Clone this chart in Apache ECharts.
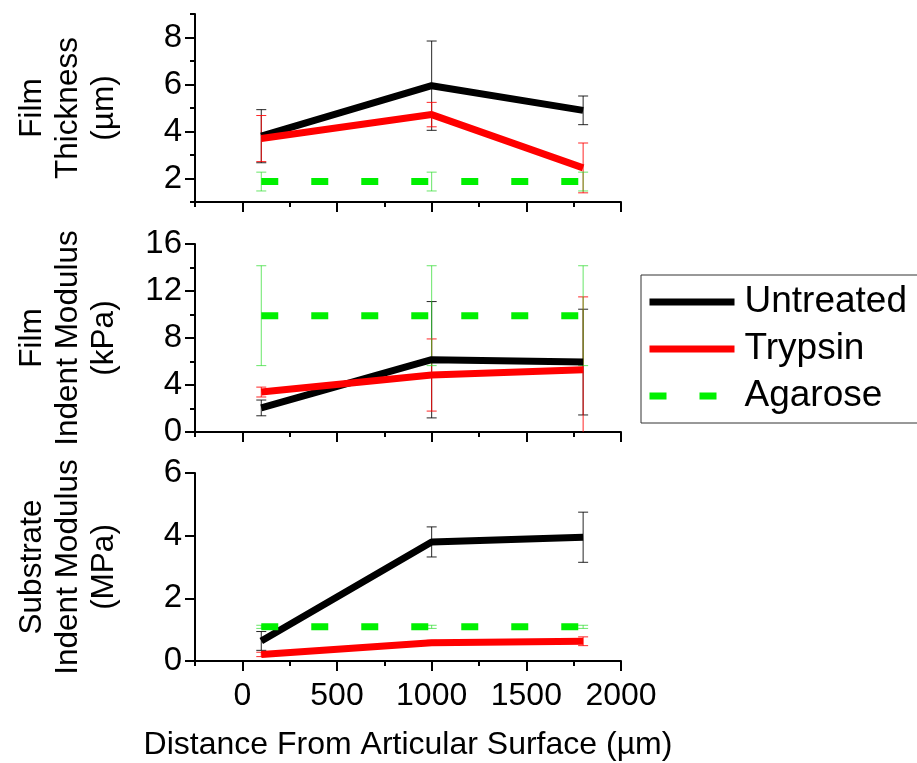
<!DOCTYPE html>
<html>
<head>
<meta charset="utf-8">
<script src="https://cdn.jsdelivr.net/npm/echarts@6/dist/echarts.min.js"></script>
<style>html,body{margin:0;padding:0;background:#fff}#c{width:917px;height:763px}</style>
</head>
<body>
<div id="c"></div>
<script>
// ---- data ----
const distances = [100, 1000, 1800];
const seriesNames = ['Untreated', 'Trypsin', 'Agarose'];

// Film thickness (µm)
const thickUntreated = [3.8, 5.95, 4.9];
const thickUntreatedErr = [1.13, 1.9, 0.61];
const thickTrypsin = [3.7, 4.72, 2.45];
const thickTrypsinErr = [0.98, 0.52, 1.06];
const thickAgarose = [1.87, 1.87, 1.87];
const thickAgaroseErr = [0.4, 0.4, 0.4];

// Film indent modulus (kPa)
const filmUntreated = [2.05, 6.15, 5.95];
const filmUntreatedErr = [0.67, 4.95, 4.5];
const filmTrypsin = [3.4, 4.85, 5.3];
const filmTrypsinErr = [0.42, 3.07, 6.2];
const filmAgarose = [9.9, 9.9, 9.9];
const filmAgaroseErr = [4.25, 4.25, 4.25];

// Substrate indent modulus (MPa)
const subUntreated = [0.64, 3.8, 3.95];
const subUntreatedErr = [0.3, 0.48, 0.8];
const subTrypsin = [0.21, 0.58, 0.63];
const subTrypsinErr = [0.07, 0.08, 0.14];
const subAgarose = [1.09, 1.09, 1.09];
const subAgaroseErr = [0.05, 0.05, 0.05];

// tick labels
const xMajorTicks = [0, 500, 1000, 1500, 2000];
const xMinorTicks = [-250, 250, 750, 1250, 1750];
const thickMajorTicks = [2, 4, 6, 8];
const thickMinorTicks = [1, 3, 5, 7, 9];
const filmMajorTicks = [0, 4, 8, 12, 16];
const filmMinorTicks = [2, 6, 10, 14];
const subMajorTicks = [0, 2, 4, 6];

const FONT = 'Liberation Sans, Arial, sans-serif';
const colors = ['#000000', '#ff0000', '#00f000'];
const errColors = ['rgba(0,0,0,0.85)', 'rgba(255,0,0,0.85)', 'rgba(40,220,40,0.7)'];

const grids = [
  {left: 195, width: 426, top: 14, height: 188},
  {left: 195, width: 426, top: 244, height: 188},
  {left: 195, width: 426, top: 473, height: 188}
];

function pts(vals) { return distances.map((d, i) => [d, vals[i]]); }
function errPts(vals, errs) { return distances.map((d, i) => [d, vals[i] - errs[i], vals[i] + errs[i]]); }

function errRender(color) {
  return function (params, api) {
    const x = api.value(0);
    const lo = api.coord([x, api.value(1)]);
    const hi = api.coord([x, api.value(2)]);
    const w = 5;
    const st = {stroke: color, lineWidth: 1};
    return {
      type: 'group',
      children: [
        {type: 'line', shape: {x1: hi[0], y1: hi[1], x2: lo[0], y2: lo[1]}, style: st},
        {type: 'line', shape: {x1: hi[0] - w, y1: hi[1], x2: hi[0] + w, y2: hi[1]}, style: st},
        {type: 'line', shape: {x1: lo[0] - w, y1: lo[1], x2: lo[0] + w, y2: lo[1]}, style: st}
      ]
    };
  };
}

const xAxes = [];
const yAxes = [];
for (let g = 0; g < 3; g++) {
  xAxes.push({
    type: 'value', gridIndex: g, min: -250, max: 2000, position: 'bottom',
    axisLine: {show: true, onZero: false, lineStyle: {color: '#000', width: 2}},
    axisTick: {show: true, customValues: xMajorTicks, length: 10, lineStyle: {color: '#000', width: 2}},
    axisLabel: {show: g === 2, customValues: xMajorTicks, margin: 19, fontSize: 32, color: '#000', fontFamily: FONT,
      formatter: v => String(v)},
    splitLine: {show: false},
    name: g === 2 ? 'Distance From Articular Surface (µm)' : '',
    nameLocation: 'middle', nameGap: 68,
    nameTextStyle: {fontSize: 32, color: '#000', fontFamily: FONT}
  });
}
for (let g = 0; g < 3; g++) {
  xAxes.push({
    type: 'value', gridIndex: g, min: -250, max: 2000, position: 'bottom',
    axisLine: {show: false, onZero: false},
    axisTick: {show: true, customValues: xMinorTicks, length: 5, lineStyle: {color: '#000', width: 2}},
    axisLabel: {show: false},
    splitLine: {show: false}
  });
}

const yNames = ['Film\nThickness\n(µm)', 'Film\nIndent Modulus\n(kPa)', 'Substrate\nIndent Modulus\n(MPa)'];
const yRanges = [[1, 9], [0, 16], [0, 6]];
const yMajors = [thickMajorTicks, filmMajorTicks, subMajorTicks];
const yMinors = [thickMinorTicks, filmMinorTicks];
for (let g = 0; g < 3; g++) {
  yAxes.push({
    type: 'value', gridIndex: g, min: yRanges[g][0], max: yRanges[g][1], position: 'left',
    axisLine: {show: true, onZero: false, lineStyle: {color: '#000', width: 2}},
    axisTick: {show: true, customValues: yMajors[g], length: 10, lineStyle: {color: '#000', width: 2}},
    axisLabel: {show: true, customValues: yMajors[g], margin: 13, fontSize: 33, color: '#000', fontFamily: FONT},
    splitLine: {show: false},
    name: yNames[g], nameLocation: 'middle', nameRotate: 90, nameGap: 73,
    nameTextStyle: {fontSize: 31.5, lineHeight: 36, color: '#000', fontFamily: FONT, align: 'center'}
  });
}
for (let g = 0; g < 2; g++) {
  yAxes.push({
    type: 'value', gridIndex: g, min: yRanges[g][0], max: yRanges[g][1], position: 'left',
    axisLine: {show: false, onZero: false},
    axisTick: {show: true, customValues: yMinors[g], length: 5, lineStyle: {color: '#000', width: 2}},
    axisLabel: {show: false},
    splitLine: {show: false}
  });
}

const panelData = [
  [[thickUntreated, thickUntreatedErr], [thickTrypsin, thickTrypsinErr], [thickAgarose, thickAgaroseErr]],
  [[filmUntreated, filmUntreatedErr], [filmTrypsin, filmTrypsinErr], [filmAgarose, filmAgaroseErr]],
  [[subUntreated, subUntreatedErr], [subTrypsin, subTrypsinErr], [subAgarose, subAgaroseErr]]
];

const series = [];
for (let g = 0; g < 3; g++) {
  for (let s = 0; s < 3; s++) {
    series.push({
      type: 'custom', name: seriesNames[s] + ' err', xAxisIndex: g, yAxisIndex: g,
      clip: true, z: 1, silent: true,
      renderItem: errRender(errColors[s]),
      encode: {x: 0, y: [1, 2]},
      data: errPts(panelData[g][s][0], panelData[g][s][1])
    });
  }
}
for (let g = 0; g < 3; g++) {
  for (let s = 0; s < 3; s++) {
    series.push({
      type: 'line', name: seriesNames[s], xAxisIndex: g, yAxisIndex: g,
      symbol: 'none', z: 3, silent: true, animation: false,
      color: colors[s],
      lineStyle: s === 2 ? {color: colors[s], width: 7, type: [17, 33], cap: 'butt'} : {color: colors[s], width: 7},
      data: pts(panelData[g][s][0])
    });
  }
}

const chart = echarts.init(document.getElementById('c'), null, {renderer: 'canvas'});
chart.setOption({
  animation: false,
  backgroundColor: '#fff',
  grid: grids,
  xAxis: xAxes,
  yAxis: yAxes,
  legend: {
    data: seriesNames,
    orient: 'vertical', left: 641, top: 275,
    borderColor: '#333', borderWidth: 1, borderRadius: 0,
    padding: [7, 13, 7, 5],
    itemGap: 7, itemWidth: 85, itemHeight: 14,
    itemStyle: {opacity: 0},
    lineStyle: {width: 7},
    textStyle: {fontSize: 37, lineHeight: 40, color: '#000', fontFamily: FONT, padding: [0, 0, 0, 5]},
    selectedMode: false
  },
  series: series
});
</script>
</body>
</html>
